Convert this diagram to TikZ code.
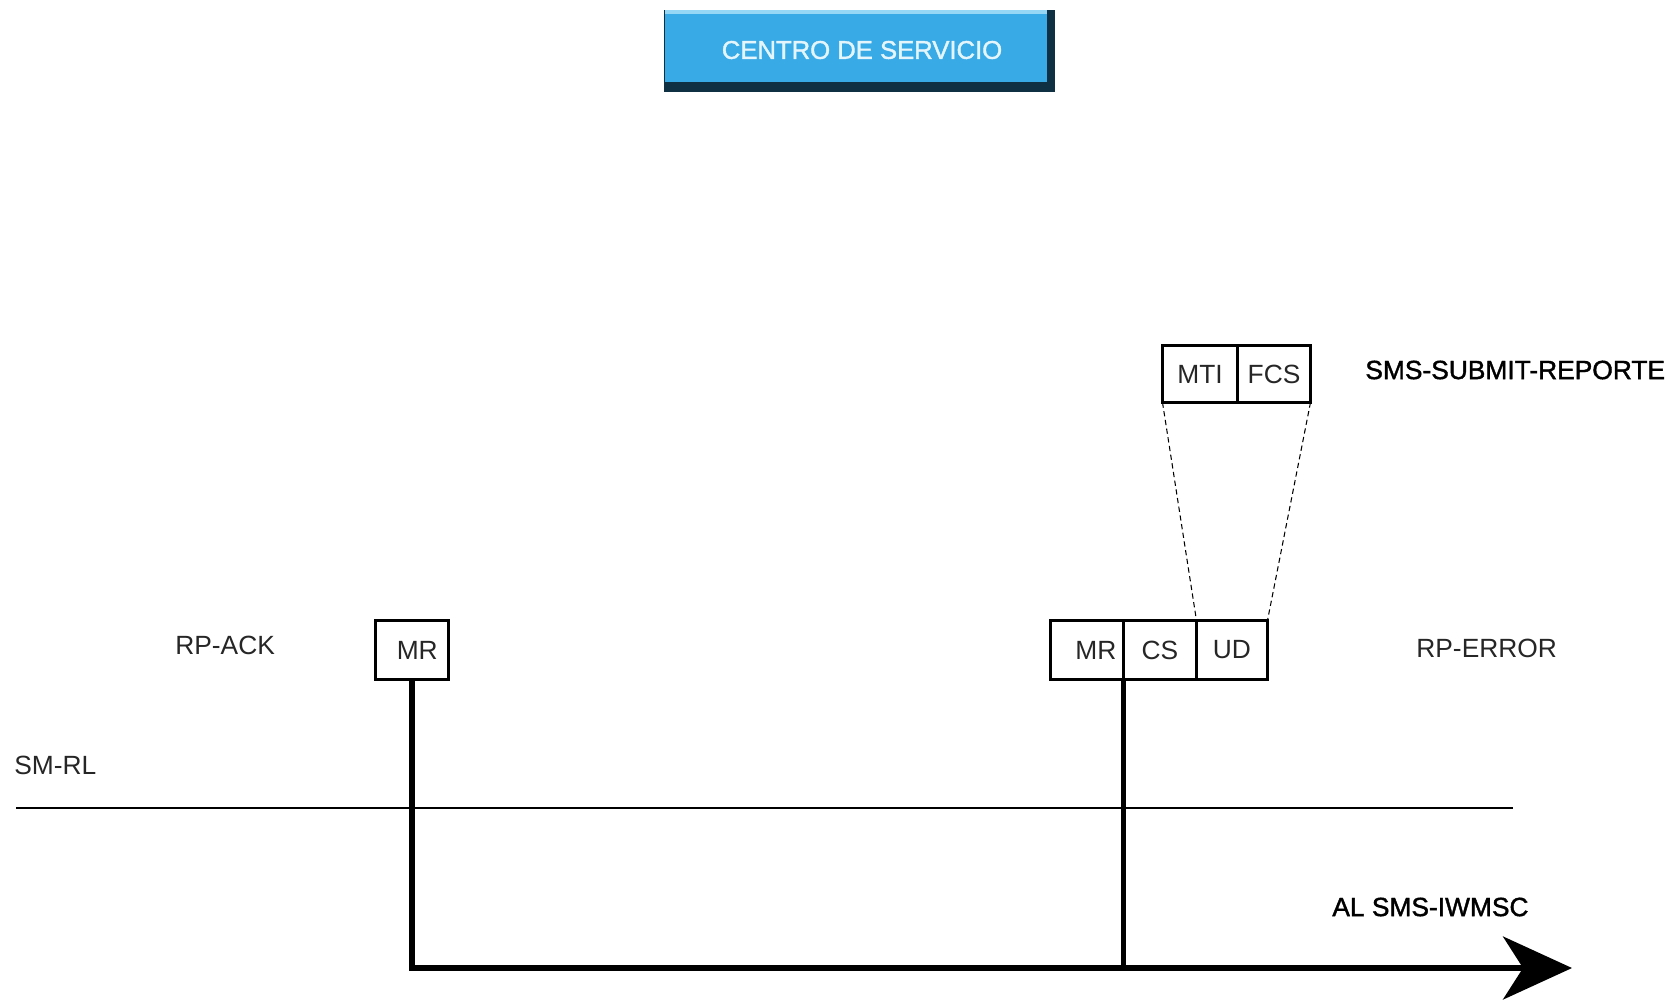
\documentclass[tikz,border=0pt]{standalone}
\usepackage{fontspec}
\setmainfont{Liberation Sans}
\newfontfamily\heavyfont[FakeBold=1.5]{Liberation Sans}
\usetikzlibrary{arrows.meta,positioning}
\definecolor{skyfill}{RGB}{56,170,230}
\definecolor{skylight}{RGB}{150,215,245}
\definecolor{skydark}{RGB}{14,48,66}
\definecolor{capfont}{RGB}{228,246,252}
\begin{document}
\begin{tikzpicture}[x=0.02cm, y=-0.02cm,
    lab/.style={font=\fontsize{15}{18}\selectfont, text=black!85, inner sep=0pt},
    heavylab/.style={font=\heavyfont\fontsize{15}{18}\selectfont, text=black, inner sep=0pt},
    cell/.style={draw, line width=1.2pt, outer sep=0pt, inner sep=0pt, minimum width=1.46cm,
                 minimum height=1.18cm, font=\fontsize{15}{18}\selectfont, text=black!85},
    thick line/.style={line width=3pt},
]
\useasboundingbox (0,0) rectangle (1673,1002);
\fill[skydark] (664,10) rectangle (1055,92);
\fill[skyfill] (665,10) rectangle (1047,82);
\fill[skylight] (665,10) rectangle (1047,14);
\node[font=\heavyfont\fontsize{14.6}{17}\selectfont, text=capfont, inner sep=0pt] (centro) at (862,50) {CENTRO DE SERVICIO};
\node[lab, anchor=west] (rpack) at (175,645) {RP-ACK};
\node[cell] (mrack) at (412,650) {\hspace*{6pt}MR};
\node[cell] (mrcs) at (1087,650) {\hspace*{10pt}MR};
\node[cell, right=0pt of mrcs] (cs) {CS};
\node[cell, minimum width=1.42cm, right=0pt of cs] (ud) {UD};
\node[lab, anchor=west] (rperror) at (1416,648) {RP-ERROR};
\node[cell, minimum width=1.5cm, minimum height=1.14cm] (mti) at (1200,374) {MTI};
\node[cell, minimum height=1.14cm, right=0pt of mti] (fcs) {FCS};
\node[heavylab, anchor=west] (smsrep) at (1365,370) {SMS-SUBMIT-REPORTE};
\node[lab, anchor=west] (smrl) at (14,765) {SM-RL};
\node[heavylab, anchor=west] (alsms) at (1332,907) {AL SMS-IWMSC};
\coordinate (rlleft) at (16,808);
\coordinate (rlright) at (1513,808);
\coordinate (tip) at (1572,968);
\draw[line width=0.9pt] (rlleft) -- (rlright);
\draw[dashed, dash pattern=on 3pt off 2pt, line width=0.6pt] (mti.south west) -- (ud.north west);
\draw[dashed, dash pattern=on 3pt off 2pt, line width=0.6pt] (fcs.south east) -- (ud.north east);
\draw[thick line, -{Stealth[length=13.8mm, width=12.6mm, inset=4mm]}] (mrack.south) |- (tip);
\draw[thick line] (mrcs.south east) -- (mrcs.south east |- tip);
\end{tikzpicture}
\end{document}
